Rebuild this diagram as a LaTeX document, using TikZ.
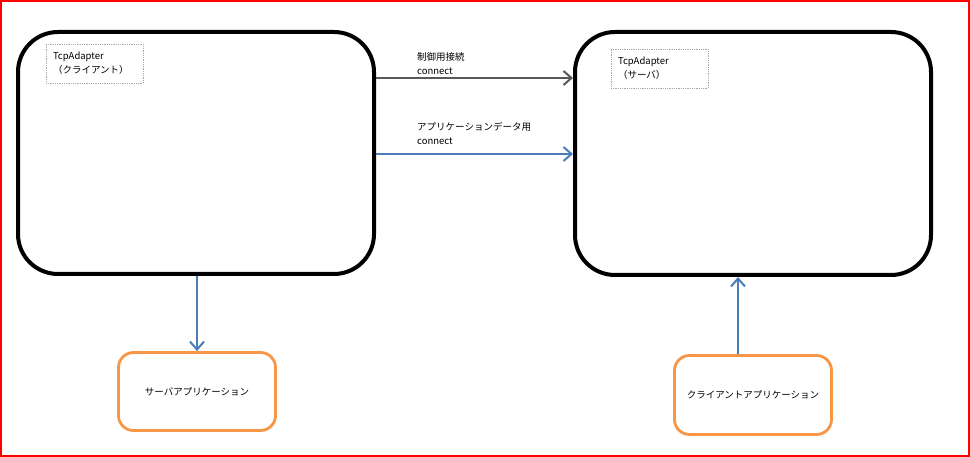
\documentclass[tikz,border=0pt]{standalone}
\usepackage{fontspec}
\setmainfont{Noto Sans CJK JP}
\usetikzlibrary{arrows.meta}
\definecolor{arrgray}{HTML}{595959}
\definecolor{arrblue}{HTML}{4A7EBB}
\definecolor{boxorange}{HTML}{F79646}
\begin{document}
\begin{tikzpicture}[x=1pt,y=-1pt,
  font=\fontsize{9.5}{14}\selectfont,
  bigbox/.style={draw=black,line width=4pt,rounded corners=40pt,minimum width=356pt,minimum height=242pt,inner sep=0pt},
  appbox/.style={draw=boxorange,line width=2.8pt,rounded corners=15pt,minimum width=157pt,minimum height=78pt,inner sep=0pt},
  tagbox/.style={draw=gray!70,densely dotted,line width=0.8pt,minimum width=97pt,minimum height=39pt,align=left,text width=83pt,inner xsep=7pt,inner ysep=0pt},
  conn/.style={line width=2.6pt,-{Straight Barb[length=8pt,width=14pt,line width=2pt]}},
  lbl/.style={align=left,anchor=west,inner sep=0pt}
]
\useasboundingbox (0,0) rectangle (970,457);
\draw[red,line width=2.2pt] (1.1,1.1) rectangle (968.9,455.9);

\node[bigbox] (L) at (196,153) {};
\node[bigbox,minimum height=243pt] (R) at (753,153.5) {};

\node[tagbox] (tl) at (94.5,63.5) {TcpAdapter\\（クライアント）};
\node[tagbox] (tr) at (659.5,68.5) {TcpAdapter\\（サーバ）};

\node[appbox] (SA) at (197,391.5) {サーバアプリケーション};
\node[appbox,minimum height=79pt] (CA) at (753,395) {クライアントアプリケーション};

\coordinate (y1) at (0,78);
\coordinate (y2) at (0,154);
\coordinate (x4) at (738,0);

\draw[conn,draw=arrgray] (y1 -| L.east) -- (y1 -| R.west);
\draw[conn,draw=arrblue] (y2 -| L.east) -- (y2 -| R.west);
\draw[conn,draw=arrblue] (L.south -| SA.north) -- (SA.north);
\draw[conn,draw=arrblue] (x4 |- CA.north) -- (x4 |- R.south);

\node[lbl] (l1) at (417,64) {制御用接続\\connect};
\node[lbl] (l2) at (417,134) {アプリケーションデータ用\\connect};
\end{tikzpicture}
\end{document}
